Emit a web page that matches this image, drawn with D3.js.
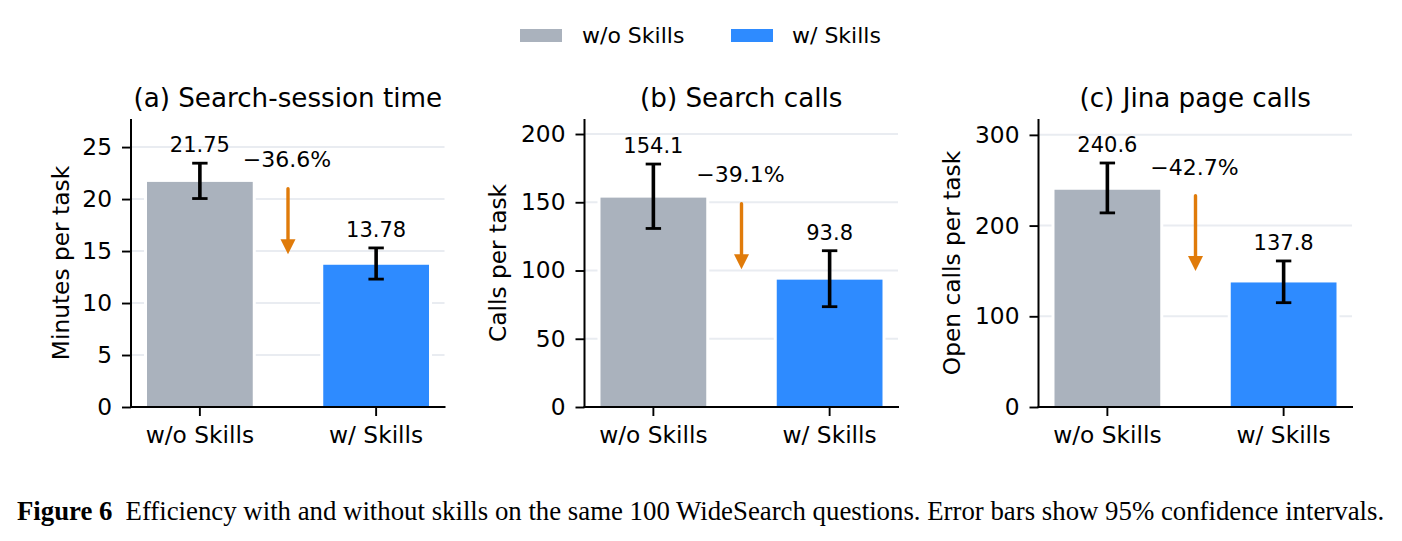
<!DOCTYPE html>
<html><head><meta charset="utf-8">
<script src="https://cdn.jsdelivr.net/npm/d3@7"></script>
<style>html,body{margin:0;background:#fff}svg{display:block}text{font-family:"DejaVu Sans";fill:#000}</style>
</head><body><svg id="c" width="1402" height="541"></svg>
<script>
const categories=["w/o Skills","w/ Skills"];
const seriesColors=["#aab2bd","#2e8bff"];
const panelTitles=["(a) Search-session time","(b) Search calls","(c) Jina page calls"];
const yLabels=["Minutes per task","Calls per task","Open calls per task"];
const yMax=[27.7,211,317.5];
const yTicks=[[0,5,10,15,20,25],[0,50,100,150,200],[0,100,200,300]];
const drawn=[[21.65,13.68],[153.4,93.3],[239.5,137.3]];
const errLow=[[20.05,12.3],[130.8,73.5],[214,115]];
const errHigh=[[23.45,15.3],[178,114.5],[269,161]];
const valueLabels=[["21.75","13.78"],["154.1","93.8"],["240.6","137.8"]];
const changeLabels=["−36.6%","−39.1%","−42.7%"];
const arrowFrom=[21,149,233];
const arrowTo=[14.7,101,150];
const changeLabelY=[23.85,170.5,264];

const lefts=[131,584.5,1038.5], plotW=314.5, plotTop=119, base=407;
const svg=d3.select("#c");
const axisColor="#000";
drawn.forEach((_,p)=>{
  const g=svg.append("g").attr("transform",`translate(${lefts[p]},0)`);
  const x=d3.scaleBand().domain(categories).range([16,298]).paddingInner(0.4).paddingOuter(0);
  const y=d3.scaleLinear().domain([0,yMax[p]]).range([base,plotTop]);
  g.selectAll(".gr").data(yTicks[p].slice(1)).join("line").attr("x1",0).attr("x2",plotW-1)
    .attr("y1",d=>y(d)).attr("y2",d=>y(d)).attr("stroke","#e9ecf1").attr("stroke-width",2);
  categories.forEach((c,i)=>{
    g.append("rect").attr("x",x(c)-3).attr("width",x.bandwidth()+6).attr("y",y(drawn[p][i])-3).attr("height",base-y(drawn[p][i])+3).attr("fill","#fff");
    g.append("rect").attr("x",x(c)).attr("width",x.bandwidth()).attr("y",y(drawn[p][i])).attr("height",base-y(drawn[p][i])).attr("fill",seriesColors[i]);
    const cx=x(c)+x.bandwidth()/2;
    g.append("line").attr("x1",cx).attr("x2",cx).attr("y1",y(errLow[p][i])).attr("y2",y(errHigh[p][i])).attr("stroke","#000").attr("stroke-width",3.6);
    [errLow,errHigh].forEach(e=>g.append("line").attr("x1",cx-7.7).attr("x2",cx+7.7).attr("y1",y(e[p][i])).attr("y2",y(e[p][i])).attr("stroke","#000").attr("stroke-width",2.8));
    g.append("text").attr("x",cx).attr("y",y(errHigh[p][i])-11).attr("text-anchor","middle").attr("font-size",21).text(valueLabels[p][i]);
  });
  const ax=(x(categories[0])+x.bandwidth()+x(categories[1]))/2;
  const y0=y(arrowFrom[p]), y1=y(arrowTo[p]);
  g.append("line").attr("x1",ax).attr("x2",ax).attr("y1",y0).attr("y2",y1-14).attr("stroke","#e07b0a").attr("stroke-width",3.4).attr("stroke-linecap","round");
  g.append("path").attr("d",`M${ax-7.5},${y1-15}L${ax+7.5},${y1-15}L${ax},${y1}Z`).attr("fill","#e07b0a");
  g.append("text").attr("x",ax-1).attr("y",y(changeLabelY[p])).attr("dy",".36em").attr("text-anchor","middle").attr("font-size",22).text(changeLabels[p]);
  const gy=g.append("g").call(d3.axisLeft(y).tickValues(yTicks[p]).tickSize(9).tickPadding(10));
  const gx=g.append("g").attr("transform",`translate(0,${base})`).call(d3.axisBottom(x).tickSize(9).tickPadding(10.5));
  [gy,gx].forEach(a=>{a.selectAll("text").attr("font-family","DejaVu Sans").attr("font-size",23.3);
    a.selectAll("line").attr("stroke",axisColor).attr("stroke-width",1.9);
    a.select(".domain").remove();});
  g.append("line").attr("x1",0).attr("x2",0).attr("y1",plotTop).attr("y2",base+1).attr("stroke",axisColor).attr("stroke-width",2);
  g.append("line").attr("x1",-1).attr("x2",plotW).attr("y1",base).attr("y2",base).attr("stroke",axisColor).attr("stroke-width",2);
  g.append("text").attr("x",plotW/2-0.5).attr("y",107).attr("text-anchor","middle").attr("font-size",26.2).text(panelTitles[p]);
  svg.append("text").attr("transform",`translate(${[69,506,960][p]},${(base+plotTop)/2}) rotate(-90)`).attr("text-anchor","middle").attr("font-size",23.3).text(yLabels[p]);
});
const lx=[520,731], tx=[582,792];
categories.forEach((c,i)=>{
  svg.append("rect").attr("x",lx[i]).attr("y",29).attr("width",42).attr("height",13).attr("fill",seriesColors[i]);
  svg.append("text").attr("x",tx[i]).attr("y",43).attr("font-size",22).text(c);
});
const cap=svg.append("text").attr("x",17).attr("y",520).attr("font-size",26.8).style("font-family","Liberation Serif");
cap.append("tspan").attr("font-weight","bold").text("Figure 6");
cap.append("tspan").attr("dx",13).text("Efficiency with and without skills on the same 100 WideSearch questions. Error bars show 95% confidence intervals.");
</script></body></html>
